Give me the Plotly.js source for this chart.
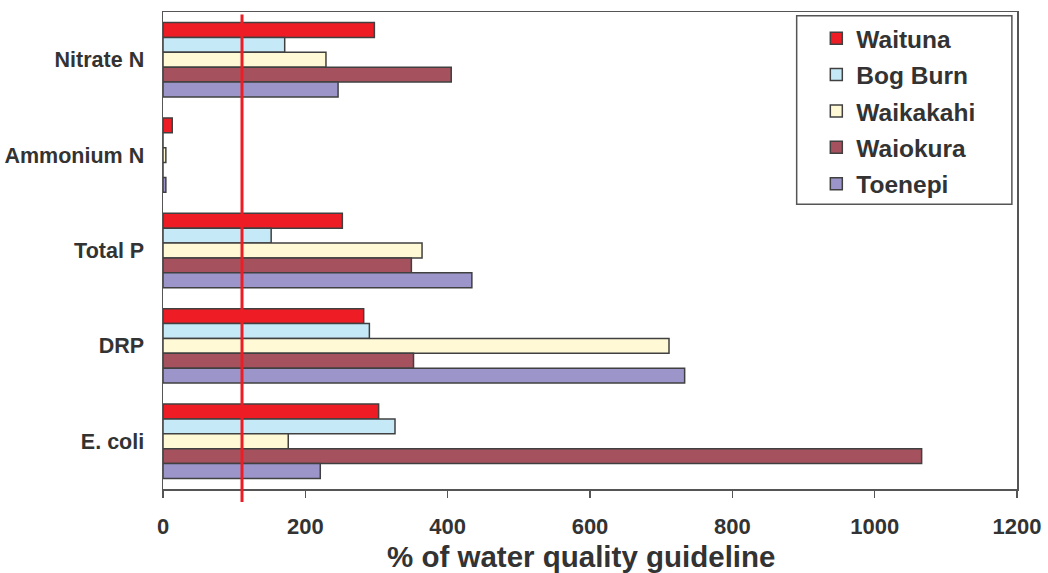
<!DOCTYPE html>
<html><head><meta charset="utf-8">
<script src="https://cdn.plot.ly/plotly-3.0.1.min.js"></script>
<style>html,body{margin:0;padding:0;background:#fff}#chart{width:1048px;height:573px}</style>
</head><body><div id="chart"></div>
<script>
const categories = ['Nitrate N', 'Ammonium N', 'Total P', 'DRP', 'E. coli'];
const waituna   = [297, 13, 252, 282, 303];
const bogBurn   = [171, 0, 152, 290, 326];
const waikakahi = [229, 4, 364, 711, 176];
const waiokura  = [405, 0, 349, 352, 1066];
const toenepi   = [246, 4, 434, 733, 221];
const guideline = 111;
const xTicks = [0, 200, 400, 600, 800, 1000, 1200];
const xTitle = '% of water quality guideline';

const seriesNames = ['Waituna', 'Bog Burn', 'Waikakahi', 'Waiokura', 'Toenepi'];
const seriesVals = [waituna, bogBurn, waikakahi, waiokura, toenepi];
const colors = ['#ee1c25', '#c6e9f8', '#fff9d6', '#a5525e', '#9b95c9'];

const traces = seriesNames.map((n, i) => ({
  type: 'bar', orientation: 'h', name: n, y: categories, x: seriesVals[i],
  legendgroup: 'g' + i,
  marker: {color: colors[i], line: {color: '#404040', width: 1.5}},
  hoverinfo: 'x+name'
}));

const fam = 'Liberation Sans, Arial, sans-serif';
const layout = {
  width: 1048, height: 573,
  margin: {l: 163, r: 31, t: 12, b: 84},
  paper_bgcolor: '#ffffff', plot_bgcolor: '#ffffff',
  barmode: 'group', bargap: 0.22, bargroupgap: 0,
  showlegend: true,
  font: {family: fam, color: '#333333'},
  xaxis: {
    range: [0, 1200], tickvals: xTicks, ticktext: xTicks.map(String),
    showgrid: false, zeroline: false, automargin: false,
    showline: true, linecolor: '#555555', linewidth: 1.5, mirror: true,
    ticks: 'outside', ticklen: 7, tickcolor: '#555555', tickwidth: 1.5,
    ticklabelstandoff: 10,
    tickfont: {family: fam, size: 22, color: '#333333', weight: 'bold'}
  },
  yaxis: {
    type: 'category', autorange: 'reversed', automargin: false,
    showgrid: false, zeroline: false,
    showline: true, linecolor: '#555555', linewidth: 1.5, mirror: true,
    ticks: '', ticklabelstandoff: 13,
    tickfont: {family: fam, size: 21.5, color: '#333333', weight: 'bold'}
  },
  legend: {
    x: 0.765, y: 0.992, xanchor: 'left', yanchor: 'top',
    bgcolor: 'rgba(0,0,0,0)', borderwidth: 0,
    font: {family: fam, size: 24.5, color: '#333333', weight: 'bold'},
    traceorder: 'grouped', tracegroupgap: 1.5,
    itemwidth: 30
  },
  annotations: [{
    text: '<b>' + xTitle + '</b>', xref: 'paper', yref: 'paper',
    x: 0.489, y: -0.141, xanchor: 'center', yanchor: 'middle', showarrow: false,
    font: {family: fam, size: 29.5, color: '#333333'}
  }],
  shapes: [
    {type: 'rect', xref: 'paper', yref: 'paper', x0: 0.742, x1: 0.994, y0: 0.597, y1: 0.992,
     fillcolor: '#ffffff', line: {color: '#555555', width: 1.5}, layer: 'below'},
    {type: 'line', xref: 'x', yref: 'paper', x0: guideline, x1: guideline,
     y0: -0.027, y1: 0.995, line: {color: '#ee1c25', width: 3}}
  ]
};
Plotly.newPlot('chart', traces, layout, {displayModeBar: false, staticPlot: true});
</script></body></html>
